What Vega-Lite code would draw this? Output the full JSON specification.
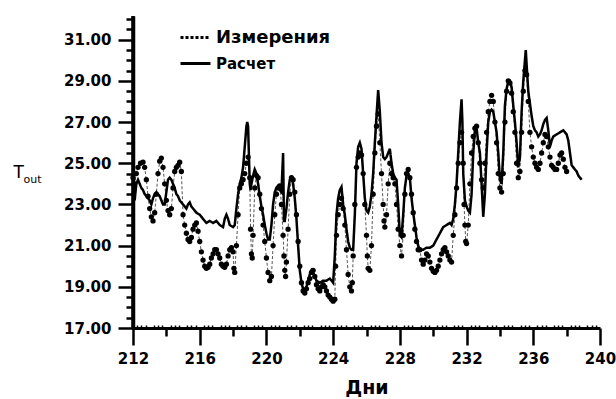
{
"$schema":"https://vega.github.io/schema/vega-lite/v6.json",
"width":467,"height":312,
"autosize":{"type":"none"},
"padding":{"left":133,"top":16,"right":16,"bottom":71},
"background":"white",
"config":{"font":"DejaVu Sans","view":{"stroke":null},
 "axis":{"domainColor":"black","domainWidth":3,"tickColor":"black","tickWidth":2.5,"labelColor":"black","titleColor":"black","grid":false,"labelFontWeight":"bold","labelFontSize":15}},
"datasets":{
"m":[
{"d":212.0,"t":24.3},{"d":212.1,"t":24.0},{"d":212.2,"t":24.5},{"d":212.3,"t":24.8},{"d":212.45,"t":25.0},{"d":212.6,"t":25.05},{"d":212.7,"t":24.8},{"d":212.8,"t":24.2},{"d":212.9,"t":23.4},{"d":213.0,"t":22.8},{"d":213.1,"t":22.4},{"d":213.2,"t":22.2},{"d":213.3,"t":22.6},{"d":213.4,"t":23.5},{"d":213.5,"t":24.5},{"d":213.6,"t":25.1},{"d":213.7,"t":25.25},{"d":213.8,"t":24.8},{"d":213.9,"t":24.0},{"d":214.0,"t":23.2},{"d":214.1,"t":22.7},{"d":214.2,"t":22.5},{"d":214.3,"t":22.8},{"d":214.4,"t":23.8},{"d":214.5,"t":24.6},{"d":214.6,"t":24.8},{"d":214.7,"t":24.9},{"d":214.8,"t":25.05},{"d":214.9,"t":24.6},{"d":215.0,"t":22.5},{"d":215.1,"t":22.0},{"d":215.2,"t":21.6},{"d":215.3,"t":21.3},{"d":215.4,"t":21.2},{"d":215.5,"t":21.4},{"d":215.6,"t":21.8},{"d":215.7,"t":22.0},{"d":215.8,"t":22.1},{"d":215.9,"t":21.7},{"d":216.0,"t":21.2},{"d":216.1,"t":20.7},{"d":216.2,"t":20.3},{"d":216.3,"t":20.0},{"d":216.4,"t":19.9},{"d":216.5,"t":19.95},{"d":216.6,"t":20.1},{"d":216.7,"t":20.4},{"d":216.8,"t":20.6},{"d":216.9,"t":20.8},{"d":217.0,"t":20.8},{"d":217.1,"t":20.6},{"d":217.2,"t":20.4},{"d":217.3,"t":20.1},{"d":217.4,"t":20.0},{"d":217.5,"t":19.95},{"d":217.6,"t":20.1},{"d":217.7,"t":20.5},{"d":217.8,"t":20.8},{"d":217.9,"t":20.9},{"d":218.0,"t":20.7},{"d":218.05,"t":19.9},{"d":218.1,"t":19.7},{"d":218.2,"t":21.0},{"d":218.3,"t":22.5},{"d":218.4,"t":23.8},{"d":218.5,"t":24.0},{"d":218.6,"t":24.2},{"d":218.7,"t":24.5},{"d":218.8,"t":25.0},{"d":218.9,"t":25.3},{"d":219.0,"t":24.3},{"d":219.05,"t":21.8},{"d":219.1,"t":20.6},{"d":219.15,"t":20.4},{"d":219.2,"t":21.5},{"d":219.3,"t":23.8},{"d":219.4,"t":24.4},{"d":219.5,"t":24.3},{"d":219.6,"t":23.5},{"d":219.7,"t":22.8},{"d":219.8,"t":22.0},{"d":219.9,"t":21.2},{"d":220.0,"t":20.4},{"d":220.1,"t":19.7},{"d":220.2,"t":19.3},{"d":220.3,"t":19.5},{"d":220.4,"t":21.0},{"d":220.5,"t":22.5},{"d":220.6,"t":23.5},{"d":220.7,"t":23.8},{"d":220.8,"t":23.9},{"d":220.9,"t":23.0},{"d":221.0,"t":21.5},{"d":221.05,"t":20.5},{"d":221.1,"t":19.8},{"d":221.15,"t":19.5},{"d":221.2,"t":20.2},{"d":221.3,"t":21.8},{"d":221.4,"t":23.5},{"d":221.5,"t":24.3},{"d":221.6,"t":24.2},{"d":221.7,"t":23.6},{"d":221.8,"t":22.5},{"d":221.9,"t":21.2},{"d":222.0,"t":20.0},{"d":222.1,"t":19.2},{"d":222.2,"t":18.8},{"d":222.3,"t":18.7},{"d":222.4,"t":18.9},{"d":222.5,"t":19.2},{"d":222.6,"t":19.4},{"d":222.7,"t":19.7},{"d":222.8,"t":19.8},{"d":222.9,"t":19.5},{"d":223.0,"t":19.1},{"d":223.1,"t":18.9},{"d":223.2,"t":18.8},{"d":223.3,"t":19.0},{"d":223.4,"t":19.1},{"d":223.5,"t":19.0},{"d":223.6,"t":18.8},{"d":223.7,"t":18.6},{"d":223.8,"t":18.5},{"d":223.9,"t":18.4},{"d":224.0,"t":18.3},{"d":224.1,"t":18.4},{"d":224.15,"t":20.0},{"d":224.2,"t":21.5},{"d":224.3,"t":22.5},{"d":224.4,"t":23.0},{"d":224.5,"t":23.3},{"d":224.6,"t":22.8},{"d":224.7,"t":22.0},{"d":224.8,"t":20.8},{"d":224.9,"t":19.6},{"d":225.0,"t":19.0},{"d":225.1,"t":18.8},{"d":225.15,"t":19.2},{"d":225.2,"t":20.5},{"d":225.3,"t":23.0},{"d":225.4,"t":24.8},{"d":225.5,"t":25.3},{"d":225.6,"t":25.5},{"d":225.7,"t":25.4},{"d":225.8,"t":24.5},{"d":225.9,"t":23.0},{"d":226.0,"t":21.5},{"d":226.05,"t":20.5},{"d":226.1,"t":19.9},{"d":226.2,"t":19.8},{"d":226.3,"t":21.0},{"d":226.4,"t":23.5},{"d":226.5,"t":25.5},{"d":226.6,"t":26.8},{"d":226.7,"t":27.4},{"d":226.8,"t":26.0},{"d":226.9,"t":24.5},{"d":227.0,"t":23.0},{"d":227.05,"t":22.2},{"d":227.1,"t":21.9},{"d":227.2,"t":22.5},{"d":227.3,"t":24.0},{"d":227.4,"t":25.0},{"d":227.5,"t":24.5},{"d":227.6,"t":24.3},{"d":227.7,"t":24.0},{"d":227.8,"t":23.0},{"d":227.9,"t":21.8},{"d":228.0,"t":21.0},{"d":228.1,"t":20.5},{"d":228.2,"t":21.5},{"d":228.3,"t":23.5},{"d":228.4,"t":24.5},{"d":228.5,"t":24.7},{"d":228.6,"t":24.3},{"d":228.7,"t":23.5},{"d":228.8,"t":22.6},{"d":228.9,"t":21.8},{"d":229.0,"t":21.2},{"d":229.1,"t":20.8},{"d":229.2,"t":20.8},{"d":229.3,"t":20.3},{"d":229.4,"t":20.1},{"d":229.5,"t":20.3},{"d":229.6,"t":20.6},{"d":229.7,"t":20.5},{"d":229.8,"t":20.2},{"d":229.9,"t":19.9},{"d":230.0,"t":19.75},{"d":230.1,"t":19.7},{"d":230.2,"t":19.8},{"d":230.3,"t":20.0},{"d":230.4,"t":20.3},{"d":230.5,"t":20.6},{"d":230.6,"t":20.8},{"d":230.7,"t":20.9},{"d":230.8,"t":20.7},{"d":230.9,"t":20.5},{"d":231.0,"t":20.3},{"d":231.1,"t":20.2},{"d":231.2,"t":21.5},{"d":231.3,"t":22.5},{"d":231.4,"t":23.8},{"d":231.5,"t":25.0},{"d":231.6,"t":26.0},{"d":231.7,"t":26.5},{"d":231.8,"t":25.0},{"d":231.85,"t":23.0},{"d":231.9,"t":22.0},{"d":231.95,"t":21.2},{"d":232.0,"t":21.1},{"d":232.1,"t":22.0},{"d":232.2,"t":24.0},{"d":232.3,"t":25.5},{"d":232.4,"t":26.3},{"d":232.5,"t":26.7},{"d":232.6,"t":26.8},{"d":232.7,"t":26.0},{"d":232.8,"t":25.0},{"d":232.9,"t":24.2},{"d":233.0,"t":23.8},{"d":233.1,"t":25.0},{"d":233.2,"t":26.5},{"d":233.3,"t":27.5},{"d":233.4,"t":28.0},{"d":233.5,"t":28.3},{"d":233.6,"t":28.0},{"d":233.7,"t":27.0},{"d":233.8,"t":26.0},{"d":233.9,"t":24.5},{"d":234.0,"t":23.8},{"d":234.1,"t":23.6},{"d":234.2,"t":24.5},{"d":234.3,"t":27.0},{"d":234.4,"t":28.5},{"d":234.5,"t":29.0},{"d":234.6,"t":28.9},{"d":234.7,"t":28.4},{"d":234.8,"t":27.5},{"d":234.9,"t":26.5},{"d":235.0,"t":25.0},{"d":235.1,"t":24.3},{"d":235.2,"t":24.6},{"d":235.3,"t":26.5},{"d":235.4,"t":28.5},{"d":235.5,"t":29.5},{"d":235.6,"t":29.3},{"d":235.7,"t":28.0},{"d":235.8,"t":26.5},{"d":235.9,"t":25.8},{"d":236.0,"t":25.3},{"d":236.1,"t":25.0},{"d":236.2,"t":24.8},{"d":236.3,"t":24.7},{"d":236.4,"t":25.0},{"d":236.5,"t":25.5},{"d":236.6,"t":26.0},{"d":236.7,"t":26.4},{"d":236.8,"t":26.3},{"d":236.9,"t":25.8},{"d":237.0,"t":25.3},{"d":237.1,"t":24.9},{"d":237.2,"t":24.8},{"d":237.3,"t":24.7},{"d":237.4,"t":24.7},{"d":237.5,"t":25.0},{"d":237.6,"t":25.4},{"d":237.7,"t":25.5},{"d":237.8,"t":25.2},{"d":237.9,"t":24.8},{"d":238.0,"t":24.6}
],
"c":[
{"d":212.0,"t":24.0},{"d":212.05,"t":23.5},{"d":212.1,"t":23.2},{"d":212.2,"t":24.0},{"d":212.3,"t":24.2},{"d":212.4,"t":24.0},{"d":212.5,"t":23.8},{"d":212.6,"t":23.7},{"d":212.7,"t":23.5},{"d":212.8,"t":23.4},{"d":212.9,"t":23.3},{"d":213.0,"t":23.2},{"d":213.1,"t":23.0},{"d":213.2,"t":23.3},{"d":213.3,"t":23.5},{"d":213.4,"t":23.6},{"d":213.5,"t":23.5},{"d":213.6,"t":23.4},{"d":213.7,"t":23.2},{"d":213.8,"t":23.0},{"d":213.9,"t":23.0},{"d":214.0,"t":23.6},{"d":214.1,"t":24.2},{"d":214.2,"t":24.3},{"d":214.3,"t":24.2},{"d":214.4,"t":24.0},{"d":214.5,"t":23.8},{"d":214.6,"t":23.5},{"d":214.7,"t":23.4},{"d":214.8,"t":23.2},{"d":214.9,"t":23.1},{"d":215.0,"t":23.0},{"d":215.1,"t":22.9},{"d":215.2,"t":22.8},{"d":215.3,"t":23.0},{"d":215.4,"t":23.1},{"d":215.5,"t":22.9},{"d":215.6,"t":22.8},{"d":215.7,"t":22.7},{"d":215.8,"t":22.6},{"d":216.0,"t":22.5},{"d":216.2,"t":22.3},{"d":216.4,"t":22.1},{"d":216.6,"t":22.2},{"d":216.8,"t":22.1},{"d":217.0,"t":22.2},{"d":217.2,"t":22.0},{"d":217.4,"t":21.9},{"d":217.5,"t":22.3},{"d":217.6,"t":22.5},{"d":217.7,"t":22.3},{"d":217.8,"t":22.0},{"d":218.0,"t":21.9},{"d":218.1,"t":22.0},{"d":218.2,"t":22.8},{"d":218.3,"t":23.5},{"d":218.4,"t":24.0},{"d":218.5,"t":24.3},{"d":218.6,"t":24.8},{"d":218.7,"t":25.8},{"d":218.8,"t":26.8},{"d":218.85,"t":27.0},{"d":218.9,"t":26.8},{"d":219.0,"t":24.0},{"d":219.05,"t":23.7},{"d":219.1,"t":24.0},{"d":219.2,"t":24.4},{"d":219.3,"t":24.7},{"d":219.4,"t":24.5},{"d":219.5,"t":24.0},{"d":219.6,"t":23.4},{"d":219.7,"t":22.9},{"d":219.8,"t":22.5},{"d":219.9,"t":22.0},{"d":220.0,"t":21.6},{"d":220.1,"t":21.3},{"d":220.2,"t":21.3},{"d":220.3,"t":22.0},{"d":220.4,"t":23.0},{"d":220.5,"t":23.6},{"d":220.6,"t":23.8},{"d":220.7,"t":23.9},{"d":220.8,"t":23.7},{"d":220.9,"t":23.6},{"d":221.0,"t":25.5},{"d":221.05,"t":22.2},{"d":221.1,"t":22.2},{"d":221.2,"t":22.8},{"d":221.3,"t":23.6},{"d":221.4,"t":24.2},{"d":221.5,"t":24.3},{"d":221.6,"t":24.0},{"d":221.7,"t":23.3},{"d":221.8,"t":22.3},{"d":221.9,"t":21.0},{"d":222.0,"t":19.8},{"d":222.1,"t":19.2},{"d":222.2,"t":18.9},{"d":222.3,"t":18.8},{"d":222.4,"t":19.0},{"d":222.5,"t":19.3},{"d":222.6,"t":19.6},{"d":222.7,"t":19.8},{"d":222.8,"t":19.7},{"d":222.9,"t":19.5},{"d":223.0,"t":19.3},{"d":223.2,"t":19.2},{"d":223.4,"t":19.3},{"d":223.6,"t":19.3},{"d":223.8,"t":19.4},{"d":224.0,"t":19.2},{"d":224.1,"t":20.5},{"d":224.2,"t":22.5},{"d":224.3,"t":23.3},{"d":224.4,"t":23.7},{"d":224.5,"t":23.85},{"d":224.6,"t":23.0},{"d":224.7,"t":22.5},{"d":224.8,"t":21.8},{"d":224.9,"t":21.2},{"d":225.0,"t":20.9},{"d":225.1,"t":20.8},{"d":225.2,"t":20.8},{"d":225.3,"t":22.5},{"d":225.4,"t":25.0},{"d":225.5,"t":25.8},{"d":225.6,"t":26.0},{"d":225.7,"t":25.7},{"d":225.8,"t":24.5},{"d":225.9,"t":23.3},{"d":226.0,"t":22.7},{"d":226.1,"t":22.6},{"d":226.2,"t":22.9},{"d":226.3,"t":23.5},{"d":226.4,"t":24.5},{"d":226.5,"t":26.0},{"d":226.6,"t":27.3},{"d":226.7,"t":28.55},{"d":226.8,"t":27.5},{"d":226.9,"t":26.0},{"d":227.0,"t":25.3},{"d":227.1,"t":25.2},{"d":227.2,"t":25.3},{"d":227.3,"t":25.5},{"d":227.4,"t":25.7},{"d":227.5,"t":25.0},{"d":227.6,"t":24.5},{"d":227.7,"t":24.3},{"d":227.8,"t":24.2},{"d":227.9,"t":23.0},{"d":228.0,"t":21.5},{"d":228.1,"t":21.4},{"d":228.2,"t":22.5},{"d":228.3,"t":23.8},{"d":228.4,"t":24.4},{"d":228.5,"t":24.5},{"d":228.6,"t":24.3},{"d":228.7,"t":23.3},{"d":228.8,"t":22.6},{"d":228.9,"t":22.0},{"d":229.0,"t":21.4},{"d":229.1,"t":21.0},{"d":229.2,"t":20.8},{"d":229.4,"t":20.8},{"d":229.6,"t":20.9},{"d":229.8,"t":20.9},{"d":230.0,"t":21.0},{"d":230.2,"t":21.3},{"d":230.4,"t":21.6},{"d":230.6,"t":21.9},{"d":230.8,"t":22.0},{"d":231.0,"t":22.1},{"d":231.1,"t":22.0},{"d":231.2,"t":22.3},{"d":231.3,"t":23.0},{"d":231.4,"t":24.0},{"d":231.5,"t":25.5},{"d":231.6,"t":27.0},{"d":231.7,"t":28.1},{"d":231.75,"t":27.0},{"d":231.8,"t":24.5},{"d":231.9,"t":23.2},{"d":232.0,"t":22.9},{"d":232.1,"t":22.7},{"d":232.2,"t":22.6},{"d":232.3,"t":23.5},{"d":232.4,"t":25.5},{"d":232.5,"t":26.6},{"d":232.6,"t":26.7},{"d":232.7,"t":26.0},{"d":232.8,"t":25.5},{"d":232.9,"t":24.0},{"d":233.0,"t":22.4},{"d":233.1,"t":23.5},{"d":233.2,"t":25.5},{"d":233.3,"t":27.0},{"d":233.4,"t":27.5},{"d":233.5,"t":27.6},{"d":233.6,"t":27.5},{"d":233.7,"t":27.0},{"d":233.8,"t":26.5},{"d":233.9,"t":25.5},{"d":234.0,"t":24.2},{"d":234.1,"t":24.0},{"d":234.2,"t":25.5},{"d":234.3,"t":27.8},{"d":234.4,"t":28.6},{"d":234.5,"t":29.0},{"d":234.6,"t":29.0},{"d":234.7,"t":28.7},{"d":234.8,"t":27.8},{"d":234.9,"t":27.0},{"d":235.0,"t":26.0},{"d":235.1,"t":24.8},{"d":235.2,"t":25.3},{"d":235.3,"t":27.5},{"d":235.4,"t":29.0},{"d":235.5,"t":30.0},{"d":235.55,"t":30.5},{"d":235.6,"t":29.8},{"d":235.7,"t":28.5},{"d":235.8,"t":27.9},{"d":235.9,"t":27.3},{"d":236.0,"t":26.8},{"d":236.1,"t":26.6},{"d":236.2,"t":26.5},{"d":236.3,"t":26.3},{"d":236.4,"t":26.4},{"d":236.5,"t":26.6},{"d":236.6,"t":26.9},{"d":236.7,"t":27.1},{"d":236.8,"t":27.2},{"d":236.9,"t":26.6},{"d":237.0,"t":25.8},{"d":237.1,"t":26.1},{"d":237.2,"t":26.3},{"d":237.4,"t":26.4},{"d":237.6,"t":26.5},{"d":237.8,"t":26.6},{"d":238.0,"t":26.4},{"d":238.1,"t":26.1},{"d":238.2,"t":25.5},{"d":238.3,"t":24.9},{"d":238.4,"t":24.8},{"d":238.5,"t":24.7},{"d":238.6,"t":24.6},{"d":238.7,"t":24.4},{"d":238.8,"t":24.3},{"d":238.9,"t":24.2}
]},
"resolve":{"axis":{"x":"independent","y":"independent"}},
"layer":[
{"data":{"name":"m"},"mark":{"type":"line","color":"#555","strokeWidth":1},
 "encoding":{
  "x":{"field":"d","type":"quantitative","scale":{"domain":[212,240],"nice":false,"zero":false},
   "axis":{"orient":"bottom","values":[212,216,220,224,228,232,236,240],"tickSize":17,"tickWidth":2.5,"tickColor":"black","domainWidth":3,"domainColor":"black","labelPadding":6,"labelFlush":false,"title":"Дни","titleFontSize":19,"titleFontWeight":"bold","titleBaseline":"alphabetic","titleY":65}},
  "y":{"field":"t","type":"quantitative","scale":{"domain":[17,32.15],"nice":false,"zero":false},
   "axis":{"orient":"left","values":[17,19,21,23,25,27,29,31],"format":".2f","tickSize":15,"tickWidth":2.5,"tickColor":"black","domainWidth":3.5,"domainColor":"black","labelPadding":7,"labelBaseline":"middle","title":"T","titleAngle":0,"titleAlign":"left","titleBaseline":"alphabetic","titleX":-120,"titleY":161,"titleFontSize":17,"titleFontWeight":"normal"}},
  "strokeDash":{"datum":"Измерения","type":"nominal","scale":{"domain":["Измерения","Расчет"],"range":[[3,2],[1,0]]},
   "legend":{"title":null,"orient":"none","legendX":46,"legendY":5,"symbolType":"stroke","symbolSize":900,"symbolStrokeWidth":3,"symbolStrokeColor":"black","labelFontSize":15,"labelFontWeight":"bold","labelColor":"black","labelOffset":4,"rowPadding":-7,
     "encode":{"labels":{"update":{"fontSize":{"signal":"datum.label === 'Измерения' ? 18 : 15"}}}}}}
 }},
{"data":{"name":"c"},"mark":{"type":"line","color":"black","strokeWidth":2.5},
 "encoding":{
  "x":{"field":"d","type":"quantitative","axis":{"orient":"bottom","values":[214,218,222,226,230,234,238],"tickSize":8,"tickWidth":2.5,"tickColor":"black","labels":false,"domain":false,"title":null}},
  "y":{"field":"t","type":"quantitative","axis":{"orient":"left","values":[17.5,18,18.5,19.5,20,20.5,21.5,22,22.5,23.5,24,24.5,25.5,26,26.5,27.5,28,28.5,29.5,30,30.5,31.5,32],"tickSize":7,"tickWidth":2.5,"tickColor":"black","labels":false,"domain":false,"title":"out","titleAngle":0,"titleAlign":"left","titleBaseline":"alphabetic","titleX":-110,"titleY":166,"titleFontSize":11,"titleFontWeight":"normal"}},
  "strokeDash":{"datum":"Расчет","type":"nominal"}
 }},
{"data":{"name":"m"},"mark":{"type":"point","filled":true,"color":"black","size":28,"opacity":1},
 "encoding":{
  "x":{"field":"d","type":"quantitative","axis":{"orient":"bottom","values":[212.25,212.5,212.75,213.25,213.5,213.75,214.25,214.5,214.75,215.25,215.5,215.75,216.25,216.5,216.75,217.25,217.5,217.75,218.25,218.5,218.75,219.25,219.5,219.75,220.25,220.5,220.75,221.25,221.5,221.75,222.25,222.5,222.75,223.25,223.5,223.75,224.25,224.5,224.75,225.25,225.5,225.75,226.25,226.5,226.75,227.25,227.5,227.75,228.25,228.5,228.75,229.25,229.5,229.75,230.25,230.5,230.75,231.25,231.5,231.75,232.25,232.5,232.75,233.25,233.5,233.75,234.25,234.5,234.75,235.25,235.5,235.75,236.25,236.5,236.75,237.25,237.5,237.75,238.25,238.5,238.75,239.25,239.5,239.75],"tickSize":-3,"tickWidth":1.5,"tickColor":"black","labels":false,"domain":false,"title":null}},
  "y":{"field":"t","type":"quantitative","axis":null}
 }},
{"data":{"values":[{"a":1}]},"mark":{"type":"rule","color":"black","strokeWidth":3.5},
 "encoding":{"x":{"datum":212,"type":"quantitative","axis":null}}}
]
}
